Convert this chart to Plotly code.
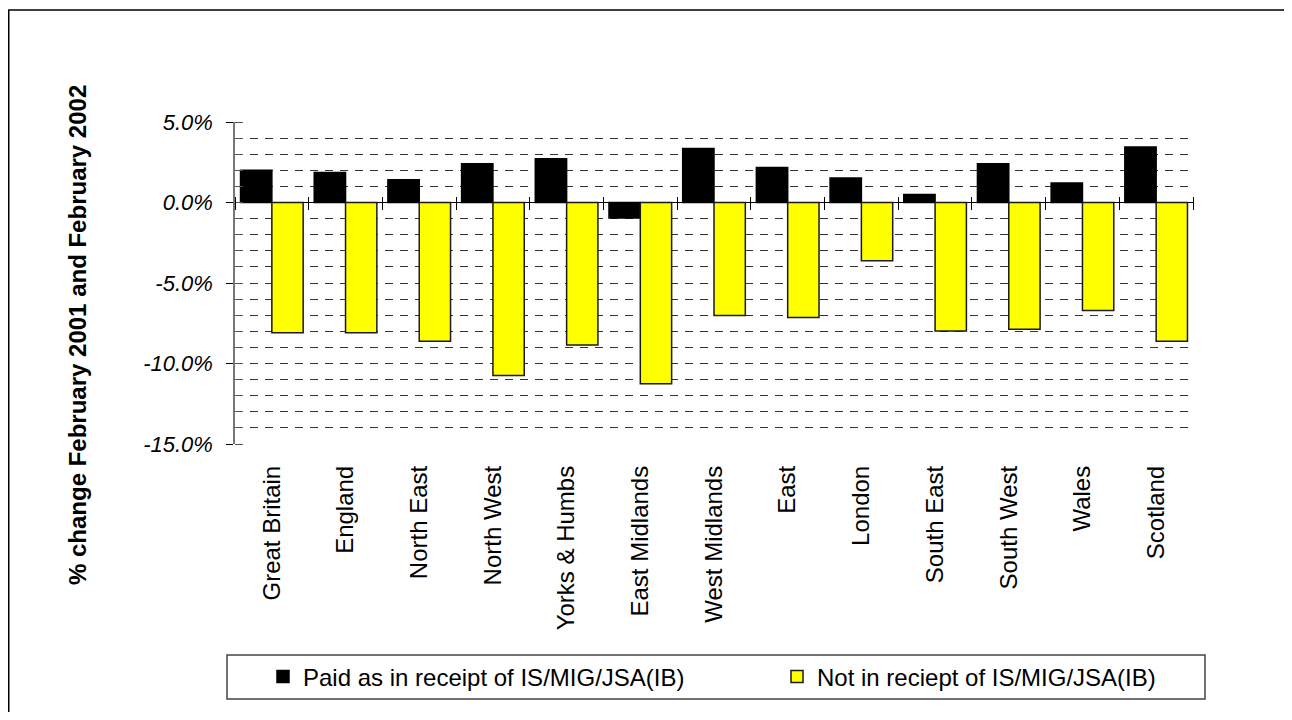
import plotly.graph_objects as go

regions = ["Great Britain", "England", "North East", "North West", "Yorks & Humbs",
           "East Midlands", "West Midlands", "East", "London", "South East",
           "South West", "Wales", "Scotland"]
paid = [2.0, 1.87, 1.42, 2.4, 2.72, -0.97, 3.35, 2.18, 1.52, 0.49, 2.41, 1.21, 3.44]
not_paid = [-8.09, -8.09, -8.62, -10.74, -8.85, -11.26, -7.02, -7.14, -3.62, -7.98, -7.88, -6.71, -8.62]
series_names = ["Paid as in receipt of IS/MIG/JSA(IB)", "Not in reciept of IS/MIG/JSA(IB)"]
y_tickvals = [5, 0, -5, -10, -15]
y_ticktext = ["5.0%", "0.0%", "-5.0%", "-10.0%", "-15.0%"]
y_title = "% change February 2001 and February 2002"

# the page has an 8px body margin, so figure px = page px - 8
W, H = 1276, 704
L, R, T, B = 227, 91, 114, 268
PW, PH = W - L - R, H - T - B

def px(xp):
    return (xp - L) / PW

def py(yp):
    return (H - B - yp) / PH

FONT = "Arial, Liberation Sans, sans-serif"

fig = go.Figure()
fig.add_trace(go.Bar(x=regions, y=paid, name=series_names[0], legend="legend",
                     marker=dict(color="#000000", line=dict(color="#000000", width=1.5))))
fig.add_trace(go.Bar(x=regions, y=not_paid, name=series_names[1], legend="legend2",
                     marker=dict(color="#FFFF00", line=dict(color="#1a1a1a", width=1.5))))
# invisible helper trace for the category boundary ticks on the zero line
fig.add_trace(go.Scatter(x=regions, y=[None] * len(regions), xaxis="x2", mode="lines",
                         showlegend=False, hoverinfo="skip"))

zero_pix = H - B - (0 - (-15)) / 20 * PH

legend_common = dict(orientation="h", xanchor="left", y=py(669), yanchor="middle",
                     font=dict(size=24, family=FONT), bgcolor="rgba(0,0,0,0)", borderwidth=0)

fig.update_layout(
    width=W, height=H,
    margin=dict(l=L, r=R, t=T, b=B),
    paper_bgcolor="white", plot_bgcolor="white",
    font=dict(family=FONT, color="black"),
    barmode="group", bargap=0.15, bargroupgap=0,
    showlegend=True,
    legend=dict(x=px(255), **legend_common),
    legend2=dict(x=px(769), **legend_common),
    xaxis=dict(type="category", showgrid=False, showline=False, zeroline=False,
               ticks="", tickangle=-90, tickfont=dict(size=24, family=FONT),
               ticklabelstandoff=16, range=[-0.5, 12.5]),
    xaxis2=dict(type="category", overlaying="x", anchor="free",
                position=py(zero_pix - 6.5), side="bottom", showgrid=False,
                showline=False, zeroline=False, showticklabels=False,
                tickson="boundaries", ticks="outside", ticklen=13, tickcolor="black",
                tickwidth=1, range=[-0.5, 12.5]),
    yaxis=dict(range=[-15, 5], tickvals=y_tickvals, ticktext=y_ticktext,
               tickfont=dict(size=22, family=FONT, style="italic"),
               showgrid=True, gridcolor="#333333", griddash="8px,7px", gridwidth=1,
               zeroline=True, zerolinecolor="black", zerolinewidth=1.2,
               showline=True, linecolor="#777777", linewidth=1.5,
               ticks="outside", ticklen=7, tickcolor="black", tickwidth=1,
               ticklabelstandoff=9,
               minor=dict(dtick=1, tick0=0, showgrid=True, gridcolor="#333333",
                          griddash="8px,7px", gridwidth=1, ticks="inside", ticklen=8,
                          tickcolor="#555555")),
    annotations=[dict(text="<b>" + y_title + "</b>", textangle=-90,
                      xref="paper", yref="paper", x=px(69), y=py(327),
                      xanchor="center", yanchor="middle", showarrow=False,
                      font=dict(size=24, family=FONT, color="black"))],
    shapes=[
        dict(type="rect", xref="paper", yref="paper", x0=px(0.75), y0=py(2), x1=px(1300), y1=py(730),
             line=dict(color="black", width=1.5), fillcolor="rgba(0,0,0,0)", layer="below"),
        dict(type="rect", xref="paper", yref="paper", x0=px(219), y0=py(647), x1=px(1197), y1=py(691),
             line=dict(color="#444444", width=1.5), fillcolor="rgba(0,0,0,0)"),
    ],
)

fig.write_html("out.html")
